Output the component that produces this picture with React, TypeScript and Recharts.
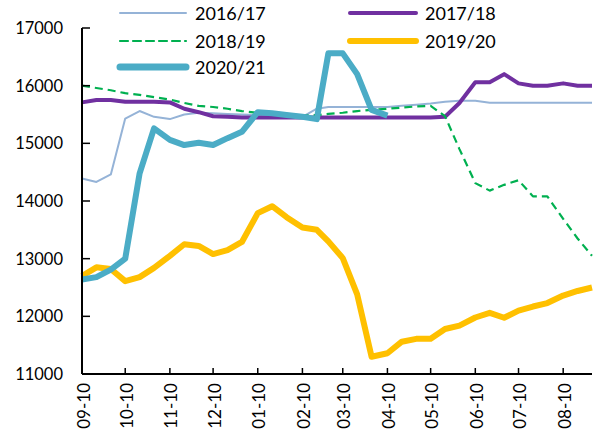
import React from "react";
import { Line, LineChart, XAxis, YAxis } from "recharts";

// ten-day sampling dates, Sep 10 → Aug 30
const dates = [
  "09-10", "09-20", "09-30", "10-10", "10-20", "10-30",
  "11-10", "11-20", "11-30", "12-10", "12-20", "12-30",
  "01-10", "01-20", "01-30", "02-10", "02-20", "02-28",
  "03-10", "03-20", "03-30", "04-10", "04-20", "04-30",
  "05-10", "05-20", "05-30", "06-10", "06-20", "06-30",
  "07-10", "07-20", "07-30", "08-10", "08-20", "08-30",
];

const monthTicks = [
  "09-10", "10-10", "11-10", "12-10", "01-10", "02-10",
  "03-10", "04-10", "05-10", "06-10", "07-10", "08-10",
];

const yTicks = [11000, 12000, 13000, 14000, 15000, 16000, 17000];

const s1617 = [
  14390, 14330, 14460, 15430, 15560, 15460, 15420, 15500, 15530, 15520, 15510, 15500,
  15490, 15480, 15470, 15460, 15600, 15630, 15630, 15630, 15630, 15630, 15650, 15670,
  15690, 15720, 15740, 15740, 15705, 15705, 15705, 15705, 15705, 15705, 15705, 15705,
];
const s1718 = [
  15710, 15750, 15750, 15720, 15720, 15720, 15710, 15600, 15540, 15470, 15460, 15450,
  15450, 15450, 15450, 15450, 15450, 15450, 15450, 15450, 15450, 15450, 15450, 15450,
  15450, 15460, 15700, 16060, 16060, 16200, 16040, 16000, 16000, 16040, 16000, 16000,
];
const s1819 = [
  16000, 15960, 15920, 15870, 15840, 15800, 15760, 15700, 15650, 15630, 15600, 15560,
  15530, 15510, 15490, 15480, 15490, 15510, 15530, 15560, 15580, 15600, 15620, 15640,
  15650, 15470, 14900, 14310, 14180, 14280, 14360, 14080, 14080, 13690, 13350, 13050,
];
const s1920 = [
  12700, 12850, 12820, 12610, 12680, 12840, 13050, 13250, 13220, 13080, 13150, 13290,
  13790, 13910, 13720, 13540, 13500, 13300, 13010, 12380, 11300, 11360, 11560, 11610,
  11610, 11780, 11840, 11980, 12060, 11975, 12100, 12170, 12230, 12360, 12440, 12500,
];
const s2021 = [
  12640, 12680, 12810, 13000, 14480, 15260, 15060, 14970, 15010, 14970, 15090, 15200,
  15540, 15520, 15490, 15460, 15420, 16560, 16560, 16200, 15580, 15480,
];

const SERIES = [
  { key: "s1617", name: "2016/17", values: s1617, color: "#95b3d7", width: 2, dash: undefined },
  { key: "s1718", name: "2017/18", values: s1718, color: "#7030a0", width: 4, dash: undefined },
  { key: "s1819", name: "2018/19", values: s1819, color: "#00b050", width: 2.2, dash: "8 5" },
  { key: "s1920", name: "2019/20", values: s1920, color: "#ffc000", width: 6, dash: undefined },
  { key: "s2021", name: "2020/21", values: s2021, color: "#4bacc6", width: 6, dash: undefined },
];

const FONT = "Lato, 'Liberation Sans', sans-serif";

function dayOf(md: string) {
  const [m, d] = md.split("-").map(Number);
  const y = m >= 9 ? 2020 : 2021;
  return (Date.UTC(y, m - 1, d) - Date.UTC(2020, 8, 10)) / 86400000;
}

const data = dates.map((md, i) => {
  const row: Record<string, number | string | null> = { date: md, day: dayOf(md) };
  SERIES.forEach((s) => {
    row[s.key] = i < s.values.length ? s.values[i] : null;
  });
  return row;
});

const tickDays = monthTicks.map(dayOf);
const labelByDay: Record<number, string> = {};
monthTicks.forEach((md) => {
  labelByDay[dayOf(md)] = md;
});

function YTick({ x, y, payload }: any) {
  return (
    <g>
      <line x1={x} x2={x + 8} y1={y} y2={y} stroke="#000" strokeWidth={1.5} />
      <text x={x - 19} y={y} textAnchor="end" dominantBaseline="central" fontSize={16.5} fontFamily={FONT} fill="#000">
        {payload.value}
      </text>
    </g>
  );
}

function XTick({ x, y, payload }: any) {
  const ty = y + 9;
  return (
    <g>
      <line x1={x} x2={x} y1={y} y2={y - 6} stroke="#000" strokeWidth={1.5} />
      <text
        x={x + 1}
        y={ty}
        transform={`rotate(-90, ${x + 1}, ${ty})`}
        textAnchor="end"
        dominantBaseline="central"
        fontSize={17}
        fontFamily={FONT}
        fill="#000"
      >
        {labelByDay[payload.value]}
      </text>
    </g>
  );
}

// legend slots: two columns, three rows
const LEGEND_POS = [
  { x: 120, y: 13 },
  { x: 350, y: 13 },
  { x: 120, y: 41 },
  { x: 350, y: 41 },
  { x: 120, y: 67 },
];

function ChartLegend() {
  return (
    <svg
      width={594}
      height={82}
      style={{ position: "absolute", left: 0, top: 0, pointerEvents: "none" }}
    >
      {SERIES.map((s, i) => {
        const p = LEGEND_POS[i];
        return (
          <g key={s.key}>
            <line
              x1={p.x}
              x2={p.x + 66}
              y1={p.y}
              y2={p.y}
              stroke={s.color}
              strokeWidth={s.key === "s2021" ? 7 : s.width}
              strokeDasharray={s.dash}
              strokeLinecap="round"
            />
            <text x={p.x + 75} y={p.y} dominantBaseline="central" fontSize={18} fontFamily={FONT} fill="#000">
              {s.name}
            </text>
          </g>
        );
      })}
    </svg>
  );
}

export default function App() {
  return (
    <div style={{ position: "absolute", left: 0, top: 0, width: 594, height: 442, background: "#fff" }}>
      <LineChart width={594} height={442} data={data} margin={{ top: 28, right: 2, left: 0, bottom: 0 }}>
        <XAxis
          dataKey="day"
          type="number"
          domain={[0, 354]}
          ticks={tickDays}
          interval={0}
          height={68}
          tickSize={0}
          tickMargin={0}
          tick={<XTick />}
          axisLine={{ stroke: "#000", strokeWidth: 2 }}
          tickLine={false}
        />
        <YAxis
          domain={[11000, 17000]}
          ticks={yTicks}
          width={82}
          tickSize={0}
          tickMargin={0}
          tick={<YTick />}
          axisLine={{ stroke: "#000", strokeWidth: 2 }}
          tickLine={false}
          allowDataOverflow
        />
        {SERIES.map((s) => (
          <Line
            key={s.key}
            dataKey={s.key}
            name={s.name}
            stroke={s.color}
            strokeWidth={s.width}
            strokeDasharray={s.dash}
            strokeLinejoin="round"
            dot={false}
            activeDot={false}
            type="linear"
            isAnimationActive={false}
          />
        ))}
      </LineChart>
      <ChartLegend />
    </div>
  );
}
